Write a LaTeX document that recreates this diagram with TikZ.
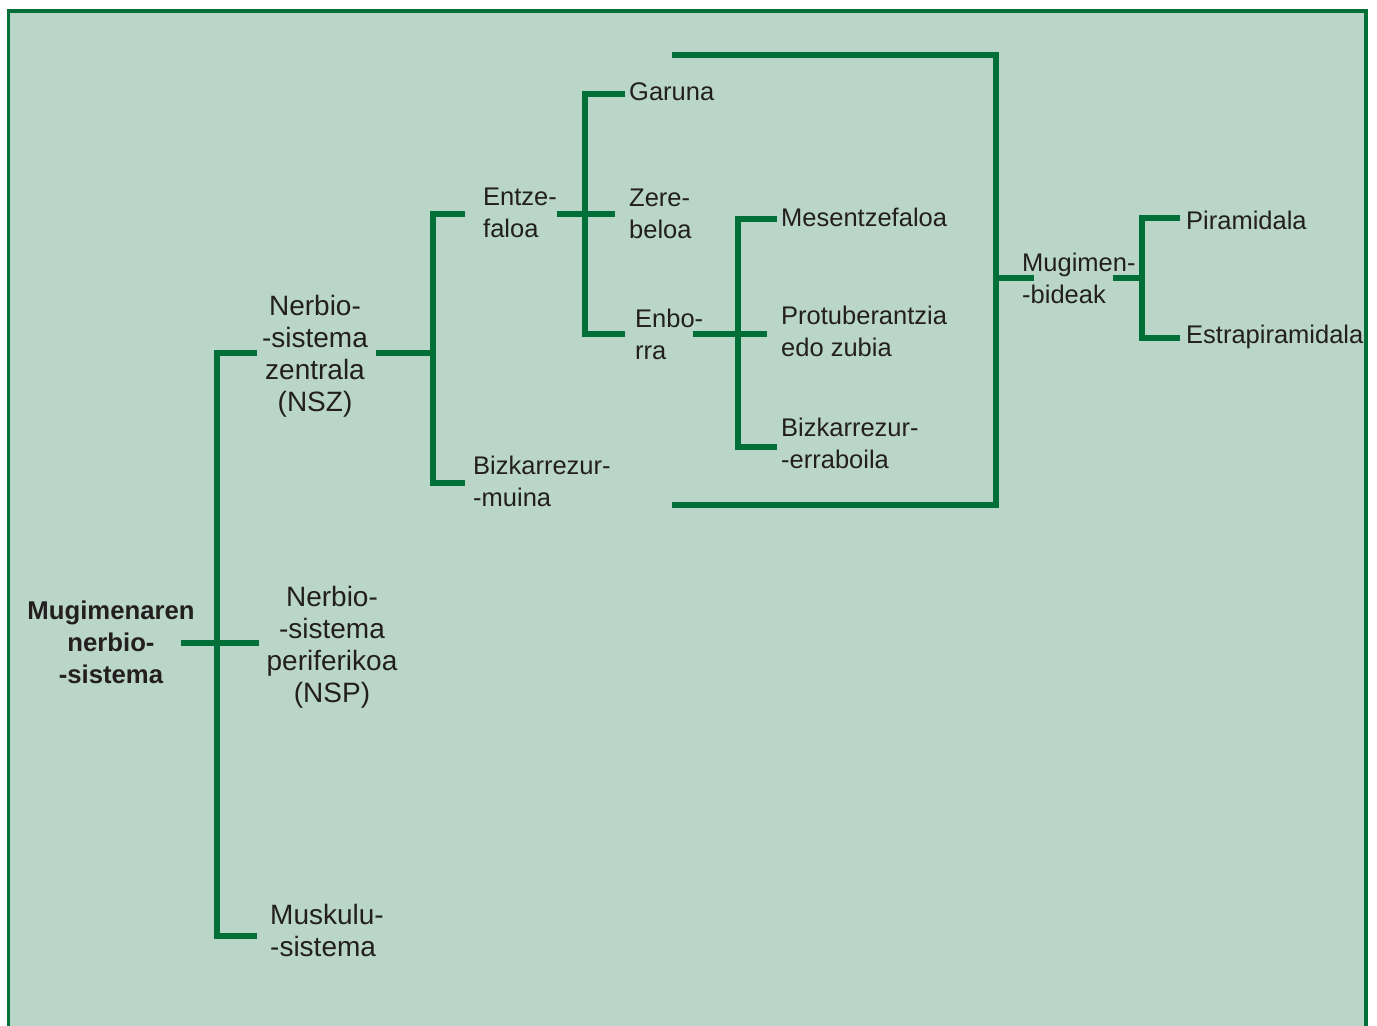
\documentclass[tikz,border=0pt]{standalone}
\usepackage{fontspec}
\setmainfont{Liberation Sans}
\definecolor{bgfill}{HTML}{B9D6C8}
\definecolor{lgreen}{HTML}{007038}
\definecolor{txt}{HTML}{231F20}
\begin{document}
\begin{tikzpicture}[x=1pt,y=-1pt,
  conn/.style={draw=lgreen,line width=5.5pt},
  lbl/.style={inner sep=0pt,text=txt,font=\fontsize{25.5}{32}\selectfont,align=left,anchor=west},
  biglbl/.style={inner sep=0pt,text=txt,font=\fontsize{28}{32}\selectfont,align=left,anchor=west},
  clbl/.style={inner sep=0pt,text=txt,font=\fontsize{28}{32}\selectfont,align=center,anchor=center},
  rootlbl/.style={inner sep=0pt,text=txt,font=\fontsize{25.7}{32}\selectfont\bfseries,align=center,anchor=center}]
\useasboundingbox (0,0) rectangle (1377,1026);
\begin{scope}
\clip (0,0) rectangle (1377,1026);
\draw[draw=lgreen,line width=3.5pt,fill=bgfill] (8.5,11) rectangle (1366,1040);
\end{scope}
% text nodes
\node[rootlbl] (root) at (111,642) {Mugimenaren\\nerbio-\\-sistema};
\node[clbl] (nsz) at (315,356) {Nerbio-\\-sistema\\zentrala\\(NSZ)};
\node[clbl] (nsp) at (332,647) {Nerbio-\\-sistema\\periferikoa\\(NSP)};
\node[biglbl] (musk) at (270,930) {Muskulu-\\-sistema};
\node[lbl] (entze) at (483,213) {Entze-\\faloa};
\node[lbl] (muina) at (473,481) {Bizkarrezur-\\-muina};
\node[lbl] (garuna) at (629,92) {Garuna};
\node[lbl] (zere) at (629,214) {Zere-\\beloa};
\node[lbl] (enbo) at (635,334) {Enbo-\\rra};
\node[lbl] (mesen) at (781,217) {Mesentzefaloa};
\node[lbl] (protu) at (781,331) {Protuberantzia\\edo zubia};
\node[lbl] (errab) at (781,443) {Bizkarrezur-\\-erraboila};
\node[lbl] (mugb) at (1022,278) {Mugimen-\\-bideak};
\node[lbl] (pira) at (1186,220) {Piramidala};
\node[lbl] (estra) at (1186,337) {Estrapiramidala};
% connector coordinates
\coordinate (r1) at (181,643);
\coordinate (r2) at (259,643);
\coordinate (rt) at (257,353);
\coordinate (rb) at (257,936);
\coordinate (n1) at (376,353);
\coordinate (nt) at (465,214);
\coordinate (nb) at (465,483);
\coordinate (e1) at (557,214);
\coordinate (e2) at (615,214);
\coordinate (et) at (625,94);
\coordinate (eb) at (625,334);
\coordinate (b1) at (693,334);
\coordinate (b2) at (767,334);
\coordinate (bt) at (777,219);
\coordinate (bb) at (777,447);
\coordinate (gt) at (672,55);
\coordinate (gb) at (672,505);
\coordinate (gm) at (1034,278);
\coordinate (m1) at (1113,278);
\coordinate (mt) at (1180,218);
\coordinate (mb) at (1180,338);
% connectors
\draw[conn] (r1) -- (r2);
\draw[conn] (rt) -- (217,353) -- (217,936) -- (rb);
\draw[conn] (n1) -- (433,353);
\draw[conn] (nt) -- (433,214) -- (433,483) -- (nb);
\draw[conn] (e1) -- (e2);
\draw[conn] (et) -- (585,94) -- (585,334) -- (eb);
\draw[conn] (b1) -- (b2);
\draw[conn] (bt) -- (738,219) -- (738,447) -- (bb);
\draw[conn] (gt) -- (996,55) -- (996,505) -- (gb);
\draw[conn] (996,278) -- (gm);
\draw[conn] (m1) -- (1142,278);
\draw[conn] (mt) -- (1142,218) -- (1142,338) -- (mb);
\end{tikzpicture}
\end{document}
